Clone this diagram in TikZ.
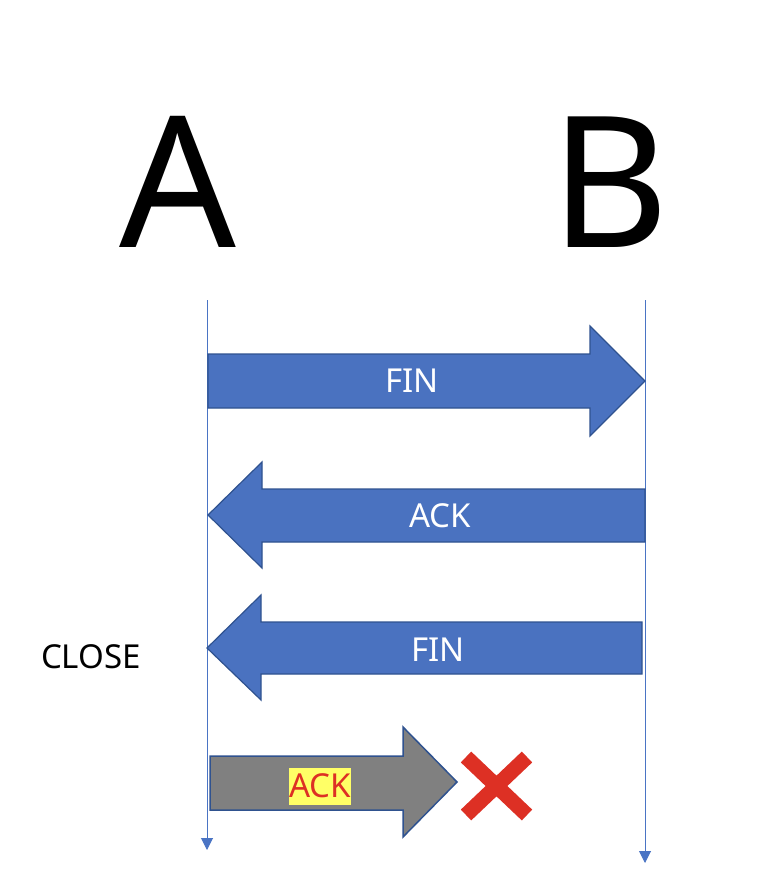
\documentclass[tikz,border=0pt]{standalone}
\usepackage{fontspec}
\setmainfont{Noto Sans}
\usetikzlibrary{arrows.meta}
\definecolor{blfill}{HTML}{4A72C0}
\definecolor{bledge}{HTML}{2F528F}
\definecolor{lineblue}{HTML}{4A74C4}
\definecolor{xred}{HTML}{DD3024}
\definecolor{ackyel}{HTML}{FFFF66}
\tikzset{
  bigarrow/.style={fill=blfill, draw=bledge, line width=1.2pt, line join=miter},
  grayarrow/.style={fill=black!50, draw=bledge, line width=1.5pt, line join=miter},
  lifeline/.style={draw=lineblue, line width=1pt, -{Triangle[width=12pt,length=12pt]}},
  msg/.style={text=white, font=\fontsize{33}{36}\selectfont, inner sep=0pt},
  big/.style={font=\fontsize{183}{190}\selectfont, inner sep=0pt}
}
\begin{document}
\begin{tikzpicture}[x=1pt,y=-1pt]
\useasboundingbox (0,0) rectangle (776,886);
\node[big] (A) at (178,182) {A};
\node[big] (B) at (610,182) {B};
\coordinate (a0) at (207,300);
\coordinate (a1) at (207,850);
\coordinate (b0) at (645,300);
\coordinate (b1) at (645,863);
\draw[lifeline] (a0) -- (a1);
\draw[lifeline] (b0) -- (b1);
% FIN right
\draw[bigarrow] (208,354) -- (590,354) -- (590,326) -- (645,381) -- (590,436) -- (590,408) -- (208,408) -- cycle;
\node[msg] (fin1) at (412,381) {FIN};
% ACK left
\draw[bigarrow] (645,489) -- (262,489) -- (262,462) -- (208,515) -- (262,568) -- (262,542) -- (645,542) -- cycle;
\node[msg] (ack1) at (440,516) {ACK};
% FIN left
\draw[bigarrow] (642,622) -- (261,622) -- (261,595) -- (207,648) -- (261,700) -- (261,674) -- (642,674) -- cycle;
\node[msg] (fin2) at (438,650) {FIN};
\node[font=\fontsize{33}{36}\selectfont, inner sep=0pt] (close) at (91,657) {CLOSE};
% gray ACK
\draw[grayarrow] (210,756) -- (403,756) -- (403,727) -- (457,782) -- (403,837) -- (403,810) -- (210,810) -- cycle;
\node[fill=ackyel, text=xred, font=\fontsize{33}{36}\selectfont, inner xsep=0.5pt, minimum height=37pt] (ack2) at (320,786) {ACK};
% red X
\coordinate (x1) at (466,757);
\coordinate (x2) at (527,815);
\coordinate (x3) at (527,757);
\coordinate (x4) at (466,815);
\draw[xred, line width=15pt] (x1) -- (x2) (x3) -- (x4);
\end{tikzpicture}
\end{document}
